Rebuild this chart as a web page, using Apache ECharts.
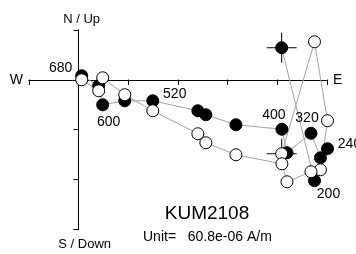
<!DOCTYPE html>
<html><head><meta charset="utf-8">
<script src="https://cdn.jsdelivr.net/npm/echarts@6/dist/echarts.min.js"></script>
<style>html,body{margin:0;padding:0;background:#fff}#c{width:356px;height:254px}</style>
</head><body><div id="c"></div>
<script>
// Zijderveld diagram, values in units of 1e-6 A/m (tick spacing = 60.8e-06 A/m)
const steps = ['NRM', '200', '240', '280', '320', '360', '400', 's8', 's9', 's10', '520', '560', '600', '640', '680'];
const stepLabels = ['', '200', '240', '', '320', '', '400', '', '', '', '520', '', '600', '', '680'];
const east  = [248.5, 288.7, 304.6, 296.0, 284.4, 255.0, 248.8, 192.5, 155.7, 145.9, 90.7, 56.4, 29.4, 24.5, 3.7];
const north = [39.1, -123.4, -84.3, -95.3, -65.4, -89.2, -60.5, -55.0, -42.8, -37.9, -25.7, -25.7, -30.6, -7.3, 4.9];
const down  = [90.4, -46.4, 50.1, 110.0, 112.4, 124.7, 102.7, 91.7, 77.0, 66.0, 37.9, 18.3, -2.4, 13.5, 0.0];
const unitStep = 60.8;
const xTicks = [-1, 5];   // axis range in tick units
const yTicks = [-3, 1];
const sampleName = 'KUM2108';
const unitText = 'Unit=   60.8e-06 A/m';

// label offsets (layout only)
const labelOffsets = {'200': [14, 13], '240': [22, -5], '320': [-4, -15], '400': [-8, -14], '520': [22, -7], '600': [6, 17], '680': [-21, -8]};

const horiz = east.map((e, i) => [e, north[i]]);
const vert = east.map((e, i) => [e, -down[i]]);
const FONT = 'Liberation Sans';
const lineColor = '#a9a19d';

const filledData = horiz.map((p, i) => {
  const lab = stepLabels[i];
  const item = {value: p};
  if (lab) item.label = {show: true, formatter: lab, position: 'inside', offset: labelOffsets[lab], color: '#000', fontSize: 14, fontFamily: FONT};
  return item;
});

function xAx(inside, name, loc) {
  return {
    type: 'value', min: xTicks[0] * unitStep, max: xTicks[1] * unitStep, interval: unitStep,
    axisLine: {show: true, onZero: true, onZeroAxisIndex: 0, lineStyle: {color: '#000', width: 1}},
    axisTick: {show: true, inside: inside, length: 5, lineStyle: {color: '#000', width: 1}},
    axisLabel: {show: false}, splitLine: {show: false},
    name: name, nameLocation: loc, nameGap: 6,
    nameTextStyle: {color: '#000', fontSize: 14, fontFamily: FONT}
  };
}
function yAx(inside, name, loc, gap, pad) {
  return {
    type: 'value', min: yTicks[0] * unitStep, max: yTicks[1] * unitStep, interval: unitStep,
    axisLine: {show: true, onZero: true, onZeroAxisIndex: 0, lineStyle: {color: '#000', width: 1}},
    axisTick: {show: true, inside: inside, length: 5, lineStyle: {color: '#000', width: 1}},
    axisLabel: {show: false}, splitLine: {show: false},
    name: name, nameLocation: loc, nameGap: gap,
    nameTextStyle: {color: '#000', fontSize: 13, fontFamily: FONT, padding: pad}
  };
}

const chart = echarts.init(document.getElementById('c'), null, {renderer: 'canvas'});
chart.setOption({
  animation: false,
  backgroundColor: '#fff',
  grid: {left: 29, right: 29, top: 30, bottom: 25, containLabel: false},
  xAxis: [xAx(false, 'E', 'end'), xAx(true, 'W', 'start')],
  yAxis: [yAx(false, 'N / Up', 'end', 4, [0, 0, 0, 6]), yAx(true, 'S / Down', 'start', 9, [0, 0, 0, 12])],
  series: [
    {type: 'scatter', z: 0, silent: true, clip: false, symbol: 'path://M0,14.5H30V15.5H0Z M14.5,0H15.5V30H14.5Z', symbolSize: 30,
     itemStyle: {color: '#000', opacity: 1}, data: [horiz[0], vert[0]]},
    {type: 'line', z: 1, clip: false, showSymbol: false, symbol: 'none', data: horiz, lineStyle: {color: lineColor, width: 1}},
    {type: 'line', z: 1, clip: false, showSymbol: false, symbol: 'none', data: vert, lineStyle: {color: lineColor, width: 1}},
    {type: 'scatter', z: 2, clip: false, symbol: 'circle', symbolSize: 12, itemStyle: {color: '#000', borderColor: '#000', borderWidth: 1, opacity: 1}, data: filledData},
    {type: 'scatter', z: 3, clip: false, symbol: 'circle', symbolSize: 12, itemStyle: {color: '#fff', borderColor: '#000', borderWidth: 1, opacity: 1}, data: vert}
  ],
  graphic: [
    {type: 'text', z: 10, style: {text: sampleName, x: 207, y: 214, align: 'center', verticalAlign: 'middle', font: '19px ' + FONT, fill: '#000'}},
    {type: 'text', z: 10, style: {text: unitText, x: 143, y: 237, align: 'left', verticalAlign: 'middle', font: '14px ' + FONT, fill: '#000'}}
  ]
});
</script></body></html>
